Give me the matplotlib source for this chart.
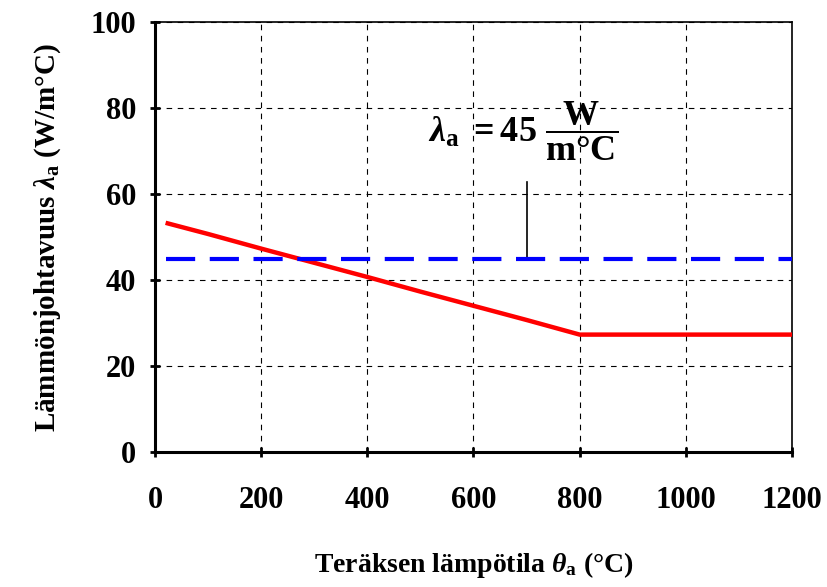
import matplotlib
matplotlib.use("Agg")
import matplotlib.pyplot as plt

# Teraksen lammonjohtavuus lampotilan funktiona (luettu kuvasta)
lampotila = [20, 100, 200, 300, 400, 500, 600, 700, 800, 1200]
lambda_a = [53.3, 50.7, 47.3, 44.0, 40.7, 37.3, 34.0, 30.7, 27.3, 27.3]

# yksinkertaistettu vakioarvo
vakio_x = [20, 1200]
vakio_y = [45, 45]

x_ticks = [0, 200, 400, 600, 800, 1000, 1200]
y_ticks = [0, 20, 40, 60, 80, 100]

plt.rcParams["font.family"] = ["Liberation Serif", "DejaVu Serif"]
plt.rcParams["font.weight"] = "bold"
plt.rcParams["axes.labelweight"] = "bold"
plt.rcParams["mathtext.fontset"] = "custom"
plt.rcParams["mathtext.rm"] = "Liberation Serif:bold"
plt.rcParams["mathtext.bf"] = "Liberation Serif:bold"
plt.rcParams["mathtext.it"] = "Liberation Serif:italic:bold"

fig = plt.figure(figsize=(8.27, 5.87), dpi=100)
ax = fig.add_axes([0.1874, 0.23, 0.7703, 0.7325])

ax.plot(lampotila, lambda_a, color="red", lw=3.2, solid_capstyle="butt", zorder=3)
ax.plot(vakio_x, vakio_y, color="blue", lw=3, dashes=(7, 3.5), zorder=3)

# selite: viiva ja kaava
ax.plot([700, 700], [45, 62.8], color="black", lw=1.2, zorder=2)
ax.text(693, 74.5, r"$\lambda_{\mathrm{a}}\ = 45\ \dfrac{\mathrm{W}}{\mathrm{m°C}}$",
        fontsize=26, ha="center", va="center")

ax.set_xlim(0, 1200)
ax.set_ylim(0, 100)
ax.set_xticks(x_ticks)
ax.set_yticks(y_ticks)
ax.grid(True, color="black", lw=0.8, dashes=(5, 5))
ax.set_axisbelow(True)

ax.tick_params(direction="inout", length=7, width=2, labelsize=22)
ax.tick_params(axis="x", pad=21)
ax.tick_params(axis="y", pad=10)
for s in ["left", "bottom"]:
    ax.spines[s].set_linewidth(2.2)
for s in ["top", "right"]:
    ax.spines[s].set_linewidth(1.2)

ax.set_xlabel(r"Teräksen lämpötila $\theta_{\mathrm{a}}$ (°C)", fontsize=20, labelpad=25)
ax.set_ylabel(r"Lämmönjohtavuus $\lambda_{\mathrm{a}}$ (W/m°C)", fontsize=21, labelpad=20)

fig.savefig("out.png", dpi=100)
